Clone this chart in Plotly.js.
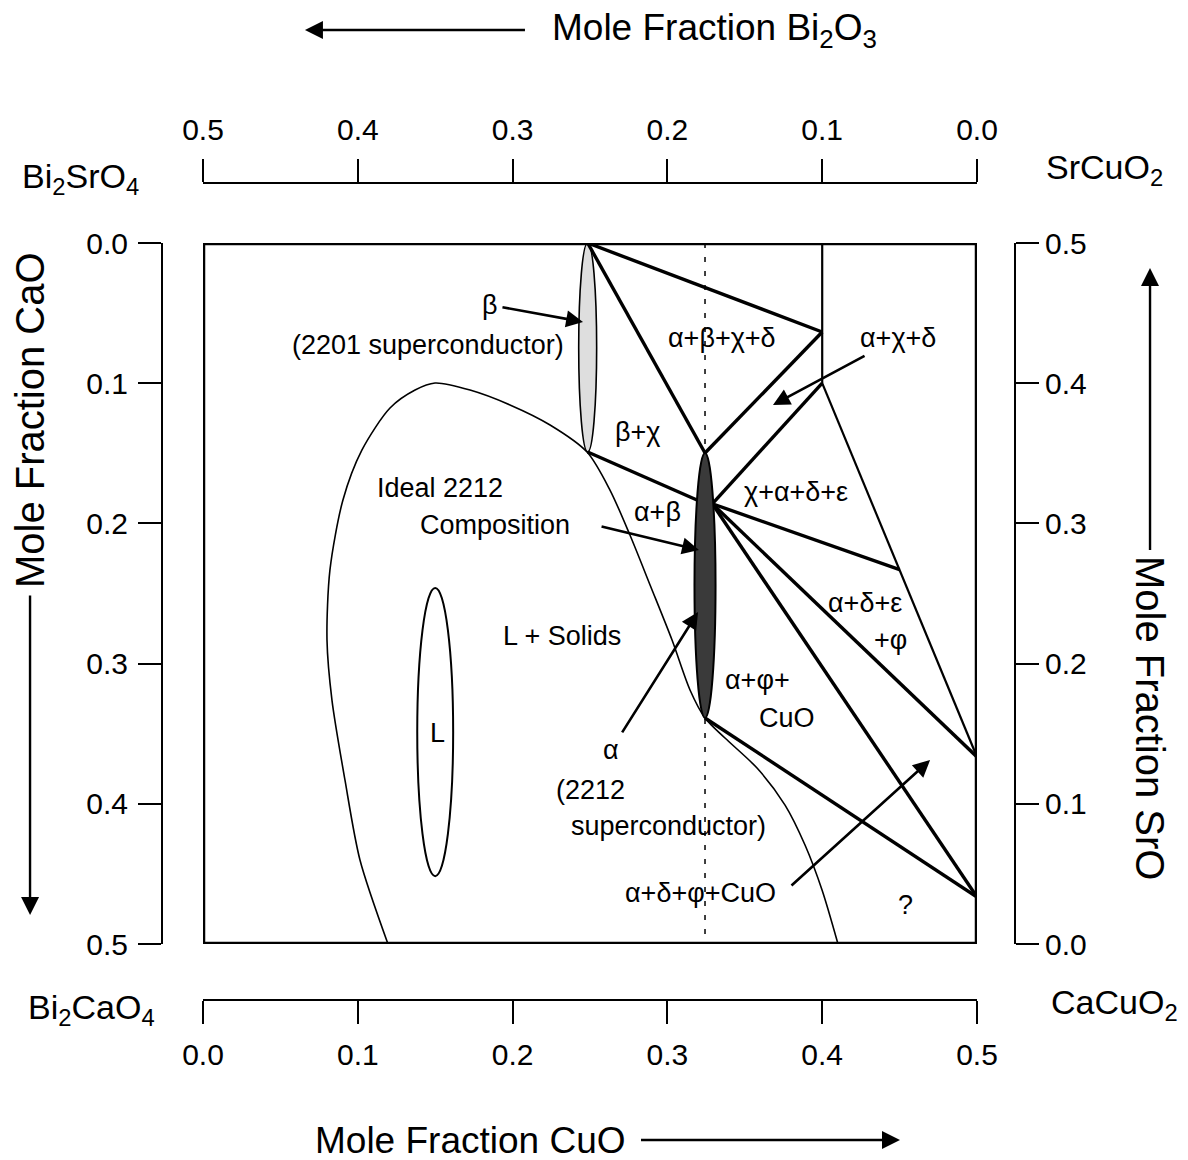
<!DOCTYPE html>
<html>
<head>
<meta charset="utf-8">
<script src="https://cdn.plot.ly/plotly-3.0.1.min.js"></script>
<style>html,body{margin:0;padding:0;background:#fff;}#chart{width:1188px;height:1160px;}</style>
</head>
<body>
<div id="chart"></div>
<script>
// ---------- DATA (mole fractions) ----------
const tickVals = [0, 0.1, 0.2, 0.3, 0.4, 0.5];
const tickText = ['0.0', '0.1', '0.2', '0.3', '0.4', '0.5'];

// Liquid + solids boundary (x = mole fraction CuO, y = mole fraction CaO)
const liqBoundaryX = [0.1195, 0.1014, 0.0917, 0.0833, 0.0801, 0.0820, 0.0904, 0.1027, 0.1208, 0.1370, 0.1499, 0.1725, 0.1983, 0.2242, 0.2481, 0.2629, 0.2758, 0.2888, 0.3030, 0.3146, 0.3243, 0.3372, 0.3579, 0.3760, 0.3889, 0.3999, 0.4102];
const liqBoundaryY = [0.5000, 0.4401, 0.3830, 0.3260, 0.2832, 0.2332, 0.1833, 0.1476, 0.1177, 0.1049, 0.0999, 0.1049, 0.1155, 0.1298, 0.1491, 0.1762, 0.2083, 0.2439, 0.2832, 0.3188, 0.3388, 0.3531, 0.3745, 0.4009, 0.4294, 0.4615, 0.5000];

// Phase fields: beta (2201), alpha (2212), liquid L  (centre, half widths)
const phaseNames = ['beta', 'alpha', 'L'];
const phaseCx = [0.2485, 0.3243, 0.1500];
const phaseCy = [0.0745, 0.2443, 0.3488];
const phaseRx = [0.0058, 0.0068, 0.0116];
const phaseRy = [0.0745, 0.0945, 0.1028];

// Heavy tie lines (segments separated by null)
const tieX = [0.2485, 0.4000, null, 0.2485, 0.3243, null, 0.3243, 0.4000, null, 0.2485, 0.3191, null,
              0.3290, 0.4000, null, 0.3290, 0.4500, null, 0.3290, 0.5000, null, 0.3290, 0.5000, null, 0.3243, 0.5000];
const tieY = [0.0000, 0.0635, null, 0.0000, 0.1498, null, 0.1498, 0.0635, null, 0.1491, 0.1833, null,
              0.1860, 0.1000, null, 0.1860, 0.2330, null, 0.1860, 0.3666, null, 0.1860, 0.4665, null, 0.3388, 0.4665];

// Lighter boundaries
const edgeX = [0.4000, 0.4000, null, 0.4000, 0.4500, 0.5000];
const edgeY = [0.0000, 0.1000, null, 0.1000, 0.2330, 0.3666];

// 2212 stoichiometric composition line and ideal point
const idealX = [0.3243];
const idealY = [0.2190];
const compLineX = [0.3243, 0.3243];
const compLineY = [0.0000, 0.5000];

// Field labels
const labelText = ['β', '(2201 superconductor)', 'α+β+χ+δ', 'α+χ+δ', 'β+χ', 'Ideal 2212', 'Composition', 'α+β',
                   'χ+α+δ+ε', 'L + Solids', 'α+δ+ε', '+φ', 'α+φ+', 'CuO', 'L', 'α', '(2212', 'superconductor)', 'α+δ+φ+CuO', '?'];
const labelX = [0.1854, 0.2345, 0.3353, 0.4490, 0.2804, 0.1531, 0.1886, 0.2939,
                0.3831, 0.2319, 0.4276, 0.4438, 0.3579, 0.3773, 0.1512, 0.2636, 0.2500, 0.3004, 0.3211, 0.4535];
const labelY = [0.0442, 0.0728, 0.0678, 0.0678, 0.1348, 0.1748, 0.2011, 0.1919,
                0.1776, 0.2803, 0.2568, 0.2832, 0.3117, 0.3388, 0.3495, 0.3616, 0.3902, 0.4158, 0.4636, 0.4722];
const labelAnchor = ['center', 'right', 'center', 'center', 'center', 'center', 'center', 'center',
                     'center', 'center', 'center', 'center', 'center', 'center', 'center', 'center', 'center', 'center', 'center', 'center'];

// Arrows that start at their label: label index -> arrow head
const arrowLabel = [0, 3, 15];
const arrowHeadX = [0.2455, 0.3682, 0.3198];
const arrowHeadY = [0.0563, 0.1155, 0.2632];

// Free pointer arrows (tail -> head)
const pointerTailX = [0.2565, 0.3792];
const pointerTailY = [0.2019, 0.4593];
const pointerHeadX = [0.3204, 0.4697];
const pointerHeadY = [0.2190, 0.3688];

// ---------- FIGURE ----------
const FONT = 'Liberation Sans, Arial, Helvetica, sans-serif';

const traces = [
  {x: compLineX, y: compLineY, mode: 'lines', line: {color: 'black', width: 1.5, dash: '5px,9px'}, hoverinfo: 'skip'},
  {x: liqBoundaryX, y: liqBoundaryY, mode: 'lines', line: {color: 'black', width: 1.6, shape: 'spline', smoothing: 0.8}, hoverinfo: 'skip'},
  {x: edgeX, y: edgeY, mode: 'lines', line: {color: 'black', width: 2.2}, hoverinfo: 'skip'},
  {x: tieX, y: tieY, mode: 'lines', line: {color: 'black', width: 3.4}, hoverinfo: 'skip'}
];

const shapes = [];
phaseNames.forEach((n, i) => {
  let fill = 'rgba(0,0,0,0)', lw = 2;
  if (n === 'beta') { fill = 'rgba(0,0,0,0.13)'; lw = 1.6; }
  if (n === 'alpha') { fill = '#3a3a3a'; lw = 2; }
  shapes.push({type: 'circle', xref: 'x', yref: 'y',
    x0: phaseCx[i] - phaseRx[i], x1: phaseCx[i] + phaseRx[i],
    y0: phaseCy[i] - phaseRy[i], y1: phaseCy[i] + phaseRy[i],
    fillcolor: fill, line: {color: 'black', width: lw}});
});
shapes.push({type: 'rect', xref: 'x', yref: 'y', x0: 0, x1: 0.5, y0: 0, y1: 0.5, line: {color: 'black', width: 4.5}});

traces.push({x: idealX, y: idealY, mode: 'markers', marker: {color: 'white', size: 7}, hoverinfo: 'skip'});

const annotations = [];
const labelFont = {family: FONT, size: 27, color: 'black'};
labelText.forEach((t, i) => {
  const k = arrowLabel.indexOf(i);
  if (k < 0) {
    annotations.push({xref: 'x', yref: 'y', x: labelX[i], y: labelY[i], text: t, showarrow: false,
      xanchor: labelAnchor[i], yanchor: 'middle', font: labelFont});
  } else {
    annotations.push({xref: 'x', yref: 'y', axref: 'x', ayref: 'y', x: arrowHeadX[k], y: arrowHeadY[k],
      ax: labelX[i], ay: labelY[i], text: t, font: labelFont, showarrow: true,
      arrowhead: 2, arrowsize: 1.3, arrowwidth: 2.6, arrowcolor: 'black', standoff: 0, startstandoff: 3});
  }
});
pointerHeadX.forEach((hx, i) => {
  annotations.push({xref: 'x', yref: 'y', axref: 'x', ayref: 'y', x: hx, y: pointerHeadY[i],
    ax: pointerTailX[i], ay: pointerTailY[i], text: '', showarrow: true,
    arrowhead: 2, arrowsize: 1.3, arrowwidth: 2.6, arrowcolor: 'black', standoff: 0});
});

// outer titles (with their arrows) and corner compounds (paper coordinates)
const titleFont = {family: FONT, size: 37, color: 'black'};
const vTitleFont = {family: FONT, size: 40, color: 'black'};
const cornerFont = {family: FONT, size: 34, color: 'black'};
const arrowStyle = {showarrow: true, arrowhead: 2, arrowsize: 1.5, arrowwidth: 2.4, arrowcolor: 'black', standoff: 0};
annotations.push(
  Object.assign({xref: 'paper', yref: 'paper', x: 0.1676, y: 1.1873, ax: 410, ay: 0, text: 'Mole Fraction Bi<sub>2</sub>O<sub>3</sub>', font: titleFont, startstandoff: 26}, arrowStyle),
  Object.assign({xref: 'paper', yref: 'paper', x: 0.8652, y: -0.1714, ax: -430, ay: 0, text: 'Mole Fraction CuO', font: titleFont, startstandoff: 14}, arrowStyle),
  Object.assign({xref: 'paper', yref: 'paper', x: -0.1547, y: 0.1040, ax: 0, ay: -495, text: 'Mole Fraction CaO', textangle: -90, font: vTitleFont, startstandoff: 6}, arrowStyle),
  Object.assign({xref: 'paper', yref: 'paper', x: 1.1583, y: 0.8960, ax: 0, ay: 450, text: 'Mole Fraction SrO', textangle: 90, font: vTitleFont, startstandoff: 4}, arrowStyle),
  {xref: 'paper', yref: 'paper', x: -0.0961, y: 1.006, text: 'Bi<sub>2</sub>SrO<sub>4</sub>', showarrow: false, xanchor: 'center', yanchor: 'middle', font: cornerFont},
  {xref: 'paper', yref: 'paper', x: 1.1055, y: 1.016, text: 'SrCuO<sub>2</sub>', showarrow: false, xanchor: 'center', yanchor: 'middle', font: cornerFont},
  {xref: 'paper', yref: 'paper', x: -0.0821, y: -0.0122, text: 'Bi<sub>2</sub>CaO<sub>4</sub>', showarrow: false, xanchor: 'center', yanchor: 'middle', font: cornerFont},
  {xref: 'paper', yref: 'paper', x: 1.117, y: -0.006, text: 'CaCuO<sub>2</sub>', showarrow: false, xanchor: 'center', yanchor: 'middle', font: cornerFont}
);

const tickFont = {family: FONT, size: 30, color: 'black'};
const axBase = {tickvals: tickVals, ticktext: tickText, showgrid: false, zeroline: false, showline: true,
  linecolor: 'black', linewidth: 2, ticks: 'outside', tickcolor: 'black', tickwidth: 2, ticklen: 23,
  tickfont: tickFont, anchor: 'free', fixedrange: true};

const layout = {
  width: 1188, height: 1160,
  margin: {l: 162, r: 173, t: 183, b: 160, pad: 0},
  paper_bgcolor: 'white', plot_bgcolor: 'white', showlegend: false,
  font: {family: FONT, color: 'black'},
  xaxis: Object.assign({}, axBase, {domain: [0.04807, 0.95545], range: [0, 0.5], position: 0, side: 'bottom', ticklabelstandoff: 5}),
  xaxis2: Object.assign({}, axBase, {overlaying: 'x', range: [0.5, 0], position: 1, side: 'top', ticklabelstandoff: 7}),
  yaxis: Object.assign({}, axBase, {domain: [0.06854, 0.92656], range: [0.5, 0], position: 0, side: 'left', ticklabelstandoff: 4}),
  yaxis2: Object.assign({}, axBase, {overlaying: 'y', range: [0, 0.5], position: 1, side: 'right'}),
  shapes: shapes,
  annotations: annotations
};

// invisible point so the secondary axes are drawn
traces.push({x: [0.5], y: [0], xaxis: 'x2', yaxis: 'y2', mode: 'markers', marker: {opacity: 0}, hoverinfo: 'skip'});

Plotly.newPlot('chart', traces, layout, {staticPlot: true});
</script>
</body>
</html>
